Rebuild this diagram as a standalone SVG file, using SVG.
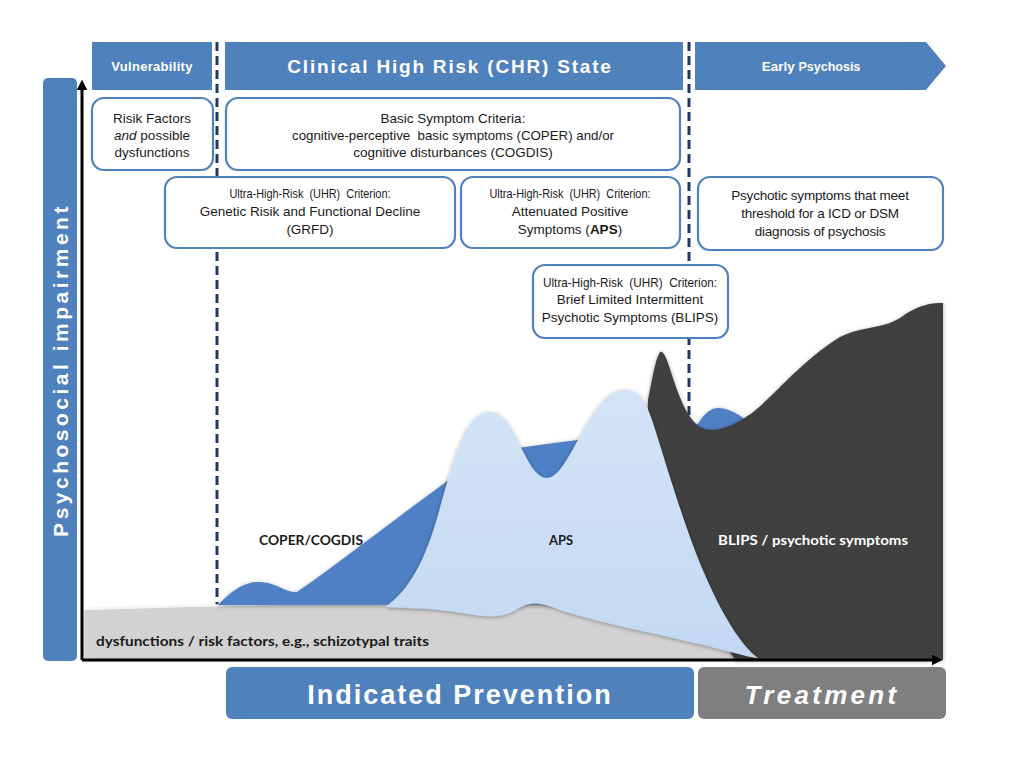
<svg xmlns="http://www.w3.org/2000/svg" width="1024" height="768" viewBox="0 0 1024 768">
<style>
.bar{fill:#4f81bd}
.box{fill:#fff;stroke:#4f81bd;stroke-width:2.2}
.hd{font-family:"Liberation Sans",Arial,sans-serif;font-weight:bold;fill:#fff;text-anchor:middle}
.bt{font-family:"Liberation Sans",Arial,sans-serif;font-size:13.5px;fill:#1a1a1a;text-anchor:middle}
.lab{font-family:Lato,"Open Sans",sans-serif;font-weight:bold;font-size:13px}
.dash{stroke:#1f3864;stroke-width:3;stroke-dasharray:9 5;fill:none}
.ax{stroke:#000;stroke-width:3;fill:none}
</style>
<defs>
<marker id="ah" viewBox="0 0 10 10" refX="2" refY="5" markerWidth="3.5" markerHeight="3.5" orient="auto">
<path d="M0,0 L10,5 L0,10 z" fill="#000"/>
</marker>
<filter id="sh" x="-10%" y="-10%" width="120%" height="120%">
<feDropShadow dx="0" dy="1" stdDeviation="2" flood-color="#000" flood-opacity="0.35"/>
</filter>
<linearGradient id="lb" x1="0" y1="0" x2="0" y2="1">
<stop offset="0" stop-color="#d4e4f7"/>
<stop offset="1" stop-color="#c2d8f2"/>
</linearGradient>
</defs>

<rect width="1024" height="768" fill="#fff"/>

<!-- dashed phase separators -->
<g id="separators">
<line class="dash" x1="217" y1="42" x2="217" y2="605"/>
<line class="dash" x1="689" y1="42" x2="689" y2="422"/>
</g>

<!-- header bars -->
<g id="vulnerability">
<rect class="bar" x="92" y="42" width="120" height="48"/>
<text class="hd" x="152" y="71" font-size="13" letter-spacing="0.3">Vulnerability</text>
</g>
<g id="chr-state">
<rect class="bar" x="225" y="42" width="458" height="48"/>
<text class="hd" x="450" y="73" font-size="19" letter-spacing="1.8">Clinical High Risk (CHR) State</text>
</g>
<g id="early-psychosis">
<polygon class="bar" points="695,42 926,42 946,66 926,90 695,90"/>
<text class="hd" x="811" y="71" font-size="13.5">Early <tspan font-size="12.5">Psychosis</tspan></text>
</g>

<!-- y-axis label bar -->
<g id="y-label">
<rect class="bar" x="43" y="78" width="34" height="583" rx="5"/>
<text class="hd" transform="translate(68,370) rotate(-90)" font-size="21" letter-spacing="3.5">Psychosocial impairment</text>
</g>

<!-- areas -->
<g id="areas">
<path id="gray-area" filter="url(#sh)" fill="#d2d2d2" d="M85,610 C180,607 300,604 390,604 L750,604 L752,658 L85,658 Z"/>
<path d="M85,609 C180,606 300,603 390,603" stroke="#f4f4f4" stroke-width="2" fill="none"/>
<path id="blue-area" filter="url(#sh)" fill="#4f80c5" d="M218,605 C228,595 240,583 257,582 C275,581 285,593 297,592 C330,570 420,500 460,472 C490,455 510,449 525,447 C560,442 590,438 612,437 C650,432 680,428 698,424 C705,412 712,408 718,408 C728,408 738,414 746,420 L746,604 L218,605 Z"/>
<path id="dark-area" filter="url(#sh)" fill="#404040" d="M735,660 C705,610 675,530 655,460 C650,440 647,420 648,400 C652,380 655,360 660,352 C664,350 667,360 672,375 C680,400 690,425 705,429 C720,432 735,425 752,413 C775,395 800,362 840,337 C865,325 880,330 900,318 C918,305 930,303 943,303 L943,660 Z"/>
<path id="lightblue-area" filter="url(#sh)" fill="url(#lb)" d="M385,607 C410,590 425,560 438,515 C455,455 465,413 490,412 C515,411 525,478 547,478 C570,478 590,390 624,390 C640,390 645,400 652,420 C665,460 685,530 705,575 C720,610 740,645 758,658 C745,657 720,648 690,642 C650,632 600,623 560,610 C540,602 530,600 512,612 C490,622 470,612 430,609 Z"/>
</g>

<!-- axes -->
<g id="connectors">
<polyline class="ax" points="82,660 82,88" marker-end="url(#ah)"/>
<polyline class="ax" points="82,660 934,660" marker-end="url(#ah)"/>
</g>

<!-- area labels -->
<g id="area-labels">
<text class="lab" x="259" y="545" fill="#1a1a1a" textLength="104" lengthAdjust="spacingAndGlyphs">COPER/COGDIS</text>
<text class="lab" x="561" y="545" fill="#1a1a1a" text-anchor="middle">APS</text>
<text class="lab" x="718" y="545" fill="#fff" textLength="190" lengthAdjust="spacingAndGlyphs">BLIPS / psychotic symptoms</text>
<text class="lab" x="96" y="646" fill="#1a1a1a" textLength="333" lengthAdjust="spacingAndGlyphs">dysfunctions / risk factors, e.g., schizotypal traits</text>
</g>

<!-- criteria boxes -->
<g id="risk-factors">
<rect class="box" x="92" y="98" width="121" height="72" rx="12"/>
<text class="bt" x="152" y="123">Risik Factors</text>
<text class="bt" x="152" y="140"><tspan font-style="italic">and</tspan> possible</text>
<text class="bt" x="152" y="157">dysfunctions</text>
</g>
<g id="basic-symptoms">
<rect class="box" x="226" y="98" width="454" height="72" rx="12"/>
<text class="bt" x="453" y="123">Basic Symptom Criteria:</text>
<text class="bt" x="453" y="140" xml:space="preserve" textLength="322" lengthAdjust="spacingAndGlyphs">cognitive-perceptive  basic symptoms (COPER) and/or</text>
<text class="bt" x="453" y="157">cognitive disturbances (COGDIS)</text>
</g>
<g id="grfd">
<rect class="box" x="165" y="177" width="290" height="71" rx="12"/>
<text class="bt" x="310" y="198" xml:space="preserve" textLength="161" lengthAdjust="spacingAndGlyphs">Ultra-High-Risk  (UHR)  Criterion:</text>
<text class="bt" x="310" y="216" font-size="14">Genetic Risik and Functional Decline</text>
<text class="bt" x="310" y="234" font-size="14">(GRFD)</text>
</g>
<g id="aps">
<rect class="box" x="461" y="177" width="219" height="71" rx="12"/>
<text class="bt" x="570" y="198" xml:space="preserve" textLength="161" lengthAdjust="spacingAndGlyphs">Ultra-High-Risk  (UHR)  Criterion:</text>
<text class="bt" x="570" y="216" font-size="14">Attenuated Positive</text>
<text class="bt" x="570" y="234" font-size="14">Symptoms (<tspan font-weight="bold">APS</tspan>)</text>
</g>
<g id="psychosis-threshold">
<rect class="box" x="698" y="177" width="245" height="73" rx="12"/>
<text class="bt" x="820" y="200" font-size="15.5" letter-spacing="-0.2">Psychotic symptoms that meet</text>
<text class="bt" x="820" y="218" font-size="15.5" letter-spacing="-0.2">threshold for a ICD or DSM</text>
<text class="bt" x="820" y="236" font-size="15.5" letter-spacing="-0.2">diagnosis of psychosis</text>
</g>
<g id="blips">
<rect class="box" x="533" y="265" width="195" height="73" rx="12"/>
<text class="bt" x="630" y="287" xml:space="preserve" textLength="174" lengthAdjust="spacingAndGlyphs">Ultra-High-Risk  (UHR)  Criterion:</text>
<text class="bt" x="630" y="304" font-size="14.2">Brief Limited Intermittent</text>
<text class="bt" x="630" y="322" font-size="14.2">Psychotic Symptoms (BLIPS)</text>
</g>

<!-- bottom bars -->
<g id="indicated-prevention">
<rect class="bar" x="226" y="667" width="468" height="52" rx="6"/>
<text class="hd" x="460" y="704" font-size="27" letter-spacing="2">Indicated Prevention</text>
</g>
<g id="treatment">
<rect x="698" y="667" width="248" height="52" rx="6" fill="#7f7f7f"/>
<text class="hd" x="822" y="704" font-size="26" font-style="italic" letter-spacing="3.3">Treatment</text>
</g>
</svg>
